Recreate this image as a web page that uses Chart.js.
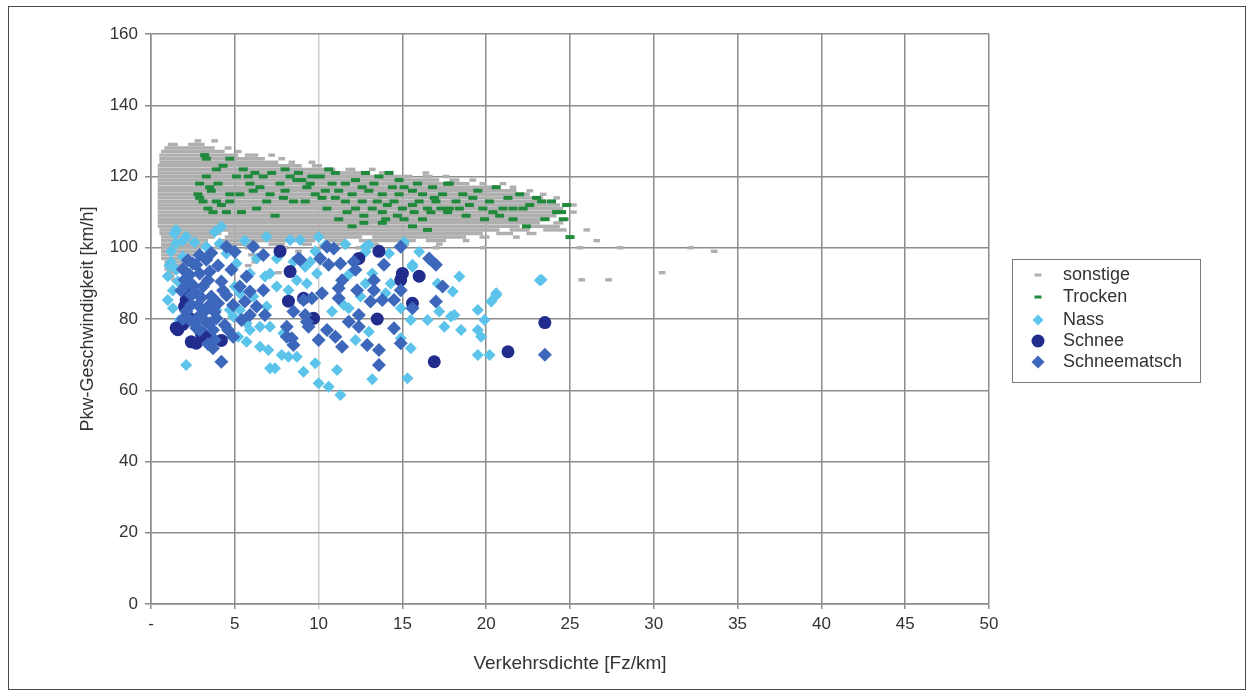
<!DOCTYPE html>
<html><head><meta charset="utf-8">
<script src="https://cdn.jsdelivr.net/npm/chart.js@4.4.1/dist/chart.umd.min.js"></script>
<style>html,body{margin:0;padding:0;background:#fff;}canvas{display:block;}</style>
</head><body>
<canvas id="c" width="1253" height="695"></canvas>
<script>
// ---- data ----
const seriesNames = ['sonstige', 'Trocken', 'Nass', 'Schnee', 'Schneematsch'];
const xTickValues = [0, 5, 10, 15, 20, 25, 30, 35, 40, 45, 50];
const xTickLabels = ['-', '5', '10', '15', '20', '25', '30', '35', '40', '45', '50'];
const yTickValues = [0, 20, 40, 60, 80, 100, 120, 140, 160];

// sonstige: runs of dashes per speed row [speed, density from, density to]
const sonstigeRuns = [
 [130,2.6,3.0],[130,3.6,4.0],
 [129,1.0,1.6],[129,2.2,3.2],
 [128,0.8,3.8],[128,4.4,4.8],
 [127,0.6,4.4],[127,5.0,5.4],
 [126,0.5,5.2],[126,5.6,6.4],[126,7.0,7.4],
 [125,0.5,6.8],[125,7.6,8.0],
 [124,0.5,7.6],[124,8.2,8.6],[124,9.4,9.8],
 [123,0.4,9.0],[123,9.6,10.2],
 [122,0.4,11.0],[122,11.6,12.2],[122,13.0,13.4],
 [121,0.4,13.0],[121,13.6,14.4],[121,16.2,16.6],
 [120,0.4,15.6],[120,16.2,16.8],[120,17.4,17.8],
 [119,0.4,17.2],[119,17.8,18.4],[119,19.0,19.4],
 [118,0.4,19.0],[118,19.6,20.0],[118,20.8,21.2],
 [117,0.4,20.6],[117,21.4,21.8],
 [116,0.4,21.8],[116,22.4,22.8],
 [115,0.4,22.6],[115,23.2,23.6],
 [114,0.4,23.4],[114,24.0,24.4],
 [113,0.4,24.0],
 [112,0.4,24.4],[112,25.0,25.4],
 [111,0.4,24.6],
 [110,0.4,24.4],[110,25.0,25.4],
 [109,0.4,24.2],
 [108,0.4,23.8],[108,24.6,25.0],
 [107,0.4,23.2],[107,24.0,24.6],
 [106,0.4,22.0],[106,22.6,24.4],
 [105,0.5,20.8],[105,21.4,22.6],[105,23.4,24.8],[105,25.8,26.2],
 [104,0.5,4.2],[104,4.6,19.8],[104,20.6,21.6],[104,22.4,23.0],
 [103,0.6,3.8],[103,4.4,12.6],[103,13.2,18.8],[103,19.6,20.2],[103,21.6,22.0],
 [102,0.6,3.4],[102,4.0,9.8],[102,10.4,11.6],[102,12.4,15.8],[102,16.4,17.6],[102,18.6,19.0],[102,26.4,26.8],
 [101,0.6,3.2],[101,3.8,6.4],[101,7.0,8.0],[101,9.0,9.6],[101,11.0,11.4],[101,13.2,13.6],[101,15.0,15.4],[101,17.0,17.4],
 [100,0.6,3.0],[100,3.8,4.6],[100,5.6,6.0],[100,7.8,8.2],[100,10.0,10.4],[100,12.2,12.6],[100,16.8,17.2],[100,19.6,20.0],[100,25.4,25.8],[100,27.8,28.2],[100,32.0,32.4],
 [99,0.6,2.8],[99,4.6,5.0],[99,8.6,9.0],[99,33.4,33.8],
 [98,0.6,2.6],[98,5.8,6.2],
 [97,0.6,2.4],[97,3.2,3.6],
 [96,0.8,2.2],[96,6.0,6.4],
 [95,0.8,2.0],[95,5.6,6.0],
 [94,0.8,1.8],
 [93,1.0,1.6],[93,7.4,7.8],[93,30.3,30.7],
 [92,1.0,1.4],
 [91,1.2,1.6],[91,25.5,25.9],[91,27.1,27.5]
];

const trocken = [
 [3.2,126],[3.3,125],[3.9,122],[4.7,125],[4.3,123],[3.3,120],[2.9,118],[5.1,120],[5.8,120],[6.7,120],
 [7.7,118],[8.3,120],[8.7,119],[5.9,118],[6.5,117],[2.9,114],[3.6,116],[4.7,115],[5.3,115],[6.1,116],
 [7.1,115],[7.9,114],[8.5,113],[3.1,113],[3.9,113],[4.7,113],[6.9,113],[8.0,116],[3.4,111],[4.2,112],
 [3.7,110],[5.4,110],[6.3,111],[7.4,109],[9.6,120],[9.3,117],[9.0,119],[4.0,118],[5.5,122],[6.2,121],
 [7.2,121],[8.0,122],[8.8,121],[3.5,117],[2.8,115],[4.5,110],[10.1,120],[9.5,118],[10.8,118],[11.6,118],
 [12.6,117],[13.3,118],[14.4,117],[15.1,117],[16.2,115],[16.9,114],[17.7,118],[10.4,116],[11.2,116],[12.0,115],
 [13.0,116],[13.8,115],[14.8,115],[15.6,116],[11.6,113],[12.6,113],[13.5,113],[14.5,113],[15.6,112],[16.5,111],
 [17.3,111],[9.2,113],[10.2,114],[11.0,114],[11.7,110],[12.7,109],[13.8,110],[14.7,109],[15.7,110],[16.7,110],
 [17.7,110],[12.7,107],[13.8,107],[15.6,106],[16.5,105],[10.5,111],[12.2,111],[13.2,111],[14.1,112],[15.0,111],
 [16.0,113],[17.0,113],[12.2,119],[13.6,120],[14.8,119],[15.9,118],[16.8,117],[11.0,121],[12.8,121],[14.2,121],
 [9.8,115],[17.4,115],[14.0,108],[15.1,108],[16.2,108],[11.2,108],[12.0,106],[10.6,122],[17.8,118],[18.6,115],
 [19.0,112],[19.2,114],[19.8,111],[20.4,110],[21.0,111],[21.6,111],[22.2,111],[23.0,114],[23.9,113],[24.8,112],
 [23.3,113],[22.6,112],[21.6,108],[22.4,106],[23.5,108],[24.6,108],[25.0,103],[20.8,109],[17.8,111],[18.4,111],
 [19.5,116],[20.2,113],[21.3,114],[22.0,115],[18.8,109],[19.9,108],[24.2,110],[20.6,117],[18.2,113],[24.5,110]
];

const nass = [
 [9.5,96.1],[9.9,92.8],[10.4,100.8],[13.0,100.8],[12.8,98.9],[14.2,98.4],[15.6,95.2],[16.0,98.9],[18.4,91.9],[20.6,86.7],
 [20.3,84.9],[19.5,82.5],[19.9,79.7],[23.2,90.9],[11.8,92.4],[12.8,90],[13.2,92.8],[14.3,90],[14.0,87.2],[12.5,86.3],
 [11.8,83],[10.8,82.1],[11.5,83.9],[14.9,83],[15.5,79.7],[16.5,79.7],[17.2,82.1],[17.9,80.7],[18.5,76.9],[17.5,77.8],
 [19.5,76.9],[19.5,69.9],[20.2,69.9],[15.5,71.8],[14.9,74.6],[13.0,76.4],[12.2,74.1],[9.8,67.6],[11.1,65.7],[13.2,63.1],
 [10.0,62],[10.6,61],[11.3,58.7],[15.3,63.4],[17.1,90],[18.0,87.7],[18.1,81.1],[19.7,75],[15.6,94.7],
 [1.5,101.2],[1.9,97.5],[1.5,93.8],[3.3,100.3],[4.1,101.2],[5.1,95.6],[5.9,92.8],[6.8,91.9],[7.1,92.8],[7.5,89.1],
 [8.2,88.1],[8.7,90.9],[5.0,89.1],[5.3,87.2],[6.1,86.3],[6.9,83.5],[5.3,82.5],[4.9,80.7],[5.7,78.8],[5.2,75],
 [5.7,73.6],[6.5,72.2],[7.0,71.3],[7.1,77.8],[7.9,76],[7.8,69.9],[8.2,69.4],[7.1,66.2],[7.4,66.2],[8.7,69.4],
 [9.1,65.2],[2.1,67.1],[1.7,79.7],[2.1,87.2],[3.9,82.5],[4.7,82.5],[6.5,77.8],[5.9,76.9],[4.5,98.4],[6.3,97],
 [7.5,97],[8.5,96.1],[9.2,94.7],[9.3,90],[1.4,104],[1.9,102],[1.2,96],[1.0,85.3],[1.3,88],[1.5,105],
 [2.1,103.1],[4.2,105.9],[6.9,103.1],[8.3,102.2],[12.8,100.3],[8.9,102.2],[11.6,101],[15.1,101.6],[3.8,104.4],[2.6,101.5],
 [5.6,102],[10.0,103],[9.8,99],[1.2,99],[1.0,92],[1.6,90.5],[1.3,83],[1.1,95],[20.6,87.2],[23.3,91]
];

const schnee = [
 [1.6,77],[1.5,77.5],[2.4,73.6],[2.7,73.2],[4.2,74],[2.1,85.3],[2.0,83.5],[2.6,79.7],[1.9,78.5],[3.0,76],
 [7.7,99],[8.3,93.3],[8.2,85],[9.1,85.8],[9.7,80.2],[12.4,97],[13.6,99],[15.0,92.8],[14.9,91],[16.0,92],
 [15.6,84.4],[13.5,80],[16.9,68],[21.3,70.8],[23.5,79],[2.3,88],[3.3,75],[2.2,80.5]
];

const schneematsch = [
 [4.5,100.3],[5.0,98.9],[6.1,100.3],[6.7,98],[8.8,97],[2.9,98],[2.7,95.2],[2.3,92.4],[2.9,92.8],[3.5,93.3],
 [2.5,89.5],[3.1,89.1],[4.2,90.5],[4.8,93.8],[5.7,91.9],[4.5,86.7],[3.6,86.3],[2.4,86.7],[2.8,83.9],[3.2,82.1],
 [4.0,84.4],[4.9,83.9],[5.9,87.7],[6.7,88.1],[5.6,84.9],[6.3,83.5],[5.9,81.1],[6.8,81.1],[5.4,79.7],[4.4,78.3],
 [3.5,78.8],[2.6,79.2],[2.9,76.9],[3.7,76.9],[4.6,76.9],[3.8,74.1],[3.7,71.8],[4.2,68],[3.9,80.2],[2.1,82.1],
 [2.3,79.7],[8.5,82.1],[8.1,77.8],[8.1,75],[8.5,72.7],[9.3,79.2],[9.1,85.3],[5.3,89.1],[4.9,75],[3.4,90.9],
 [2.1,89.5],[2.5,95.6],[3.3,96.6],[2.2,96.5],[2.0,91],[1.8,88],[2.4,84],[3.5,84],[2.9,81],[3.3,79],
 [3.8,82],[4.3,88],[4.0,95],[3.6,98.5],[1.9,94],[2.6,87.5],[3.0,86],[1.9,80],[2.7,77.5],[3.4,73],
 [10.9,99.8],[10.1,97],[10.6,95.2],[11.3,95.6],[12.1,96.1],[12.2,93.8],[11.4,90.9],[11.2,88.6],[11.2,85.8],[10.2,87.2],
 [9.6,85.8],[12.3,88.1],[13.3,90.9],[13.3,88.1],[13.9,95.2],[14.9,100.3],[16.6,97],[17.0,95.2],[17.4,89.1],[17.0,84.9],
 [13.8,85.3],[14.5,85.3],[13.1,84.9],[12.4,81.1],[12.4,77.8],[11.8,79.2],[10.5,76.9],[11.0,75],[11.4,72.2],[10.0,74.1],
 [12.9,72.7],[13.6,71.3],[14.9,73.2],[13.6,67.1],[14.5,77.4],[14.9,88.1],[15.6,83],[9.2,81.1],[9.4,77.8],[23.5,70],
 [8.9,96.6],[10.5,100.3],[8.4,74.6]
];

// ---- styles ----
const COL = { sonstige:'#afafaf', trocken:'#1f8a3c', nass:'#5cc4ea', schnee:'#222c8c', matsch:'#3c67bb' };
const FONT = "'Liberation Sans', Arial, sans-serif";
const TXT = '#333333';
const GRID = '#8c8c8c';

const toPts = arr => arr.map(([x, y]) => ({x, y}));

const framePlugin = {
  id: 'frame',
  beforeDraw(chart) {
    const ctx = chart.ctx;
    ctx.save();
    ctx.fillStyle = '#ffffff';
    ctx.fillRect(0, 0, chart.width, chart.height);
    ctx.restore();
  },
  afterDraw(chart) {
    const ctx = chart.ctx;
    ctx.save();
    ctx.strokeStyle = '#4a4a4a';
    ctx.lineWidth = 1;
    ctx.strokeRect(8.5, 6.5, 1237, 683);
    // legend box
    const lx = 1012.5, ly = 259.5, lw = 188, lh = 123;
    ctx.strokeStyle = '#7a7a7a';
    ctx.strokeRect(lx, ly, lw, lh);
    const rows = [275, 297, 320, 341, 362];
    const mx = 1038, tx = 1063;
    ctx.font = '18px ' + FONT;
    ctx.fillStyle = TXT;
    ctx.textBaseline = 'middle';
    const ds = chart.data.datasets;
    ds.forEach((d, i) => {
      const y = rows[i];
      ctx.save();
      if (i === 0) {
        ctx.fillStyle = d.backgroundColor;
        ctx.fillRect(mx - 3.5, y - 1.5, 7, 3);
      } else if (i === 1) {
        ctx.fillStyle = d.pointBorderColor;
        ctx.fillRect(mx - 3.5, y - 1.5, 7, 3);
      } else if (d.pointStyle === 'circle') {
        ctx.fillStyle = d.pointBackgroundColor;
        ctx.beginPath(); ctx.arc(mx, y, d.pointRadius, 0, Math.PI * 2); ctx.fill();
      } else {
        const r = d.pointRadius - 0.5;
        ctx.fillStyle = d.pointBackgroundColor;
        ctx.beginPath();
        ctx.moveTo(mx - r, y); ctx.lineTo(mx, y - r); ctx.lineTo(mx + r, y); ctx.lineTo(mx, y + r);
        ctx.closePath(); ctx.fill();
      }
      ctx.restore();
      ctx.fillText(d.label, tx, y);
    });
    ctx.restore();
  }
};

new Chart(document.getElementById('c'), {
  type: 'scatter',
  data: {
    datasets: [
      {
        type: 'bar', label: seriesNames[0], indexAxis: 'y', order: 5,
        data: sonstigeRuns.map(([y, a, b]) => ({x: [a, b], y})),
        backgroundColor: COL.sonstige, borderWidth: 0, barThickness: 3.4, inflateAmount: 0
      },
      {
        label: seriesNames[1], order: 4, data: toPts(trocken),
        pointStyle: 'line', pointRadius: 4.5, pointBorderWidth: 4,
        pointBorderColor: COL.trocken, borderColor: COL.trocken, pointBackgroundColor: COL.trocken
      },
      {
        label: seriesNames[2], order: 3, data: toPts(nass),
        pointStyle: 'rectRot', pointRadius: 6, pointBorderWidth: 0,
        pointBackgroundColor: COL.nass, backgroundColor: COL.nass, borderColor: COL.nass
      },
      {
        label: seriesNames[3], order: 2, data: toPts(schnee),
        pointStyle: 'circle', pointRadius: 6.5, pointBorderWidth: 0,
        pointBackgroundColor: COL.schnee, backgroundColor: COL.schnee, borderColor: COL.schnee
      },
      {
        label: seriesNames[4], order: 1, data: toPts(schneematsch),
        pointStyle: 'rectRot', pointRadius: 7, pointBorderWidth: 0,
        pointBackgroundColor: COL.matsch, backgroundColor: COL.matsch, borderColor: COL.matsch
      }
    ]
  },
  options: {
    responsive: false,
    devicePixelRatio: 1,
    animation: false,
    events: [],
    layout: { padding: { left: 70, top: 34, right: 264, bottom: 10 } },
    plugins: { legend: { display: false }, tooltip: { enabled: false } },
    scales: {
      x: {
        type: 'linear', min: 0, max: 50, offset: false,
        afterBuildTicks: s => { s.ticks = xTickValues.map(v => ({value: v})); },
        afterFit: s => { s.height = 81; },
        ticks: {
          autoSkip: false, maxRotation: 0, padding: 5, color: TXT,
          font: { family: FONT, size: 17 },
          callback: (v) => xTickLabels[xTickValues.indexOf(v)]
        },
        grid: {
          color: c => (c.tick && c.tick.value === 10) ? '#cdcdcd' : GRID,
          lineWidth: 1.5, tickLength: 5, offset: false
        },
        border: { color: GRID, width: 1.5 },
        title: {
          display: true, text: 'Verkehrsdichte [Fz/km]', color: TXT,
          font: { family: FONT, size: 19 }, padding: { top: 0, bottom: 9.5 }
        }
      },
      y: {
        type: 'linear', min: 0, max: 160, offset: false,
        afterBuildTicks: s => { s.ticks = yTickValues.map(v => ({value: v})); },
        afterFit: s => { s.width = 81; },
        ticks: { padding: 7, color: TXT, font: { family: FONT, size: 17 } },
        grid: { color: GRID, lineWidth: 1.5, tickLength: 6, offset: false },
        border: { color: GRID, width: 1.5 },
        title: {
          display: true, text: 'Pkw-Geschwindigkeit [km/h]', color: TXT,
          font: { family: FONT, size: 18 }, padding: { top: 7, bottom: 0 }
        }
      }
    }
  },
  plugins: [framePlugin]
});
</script>
</body></html>
